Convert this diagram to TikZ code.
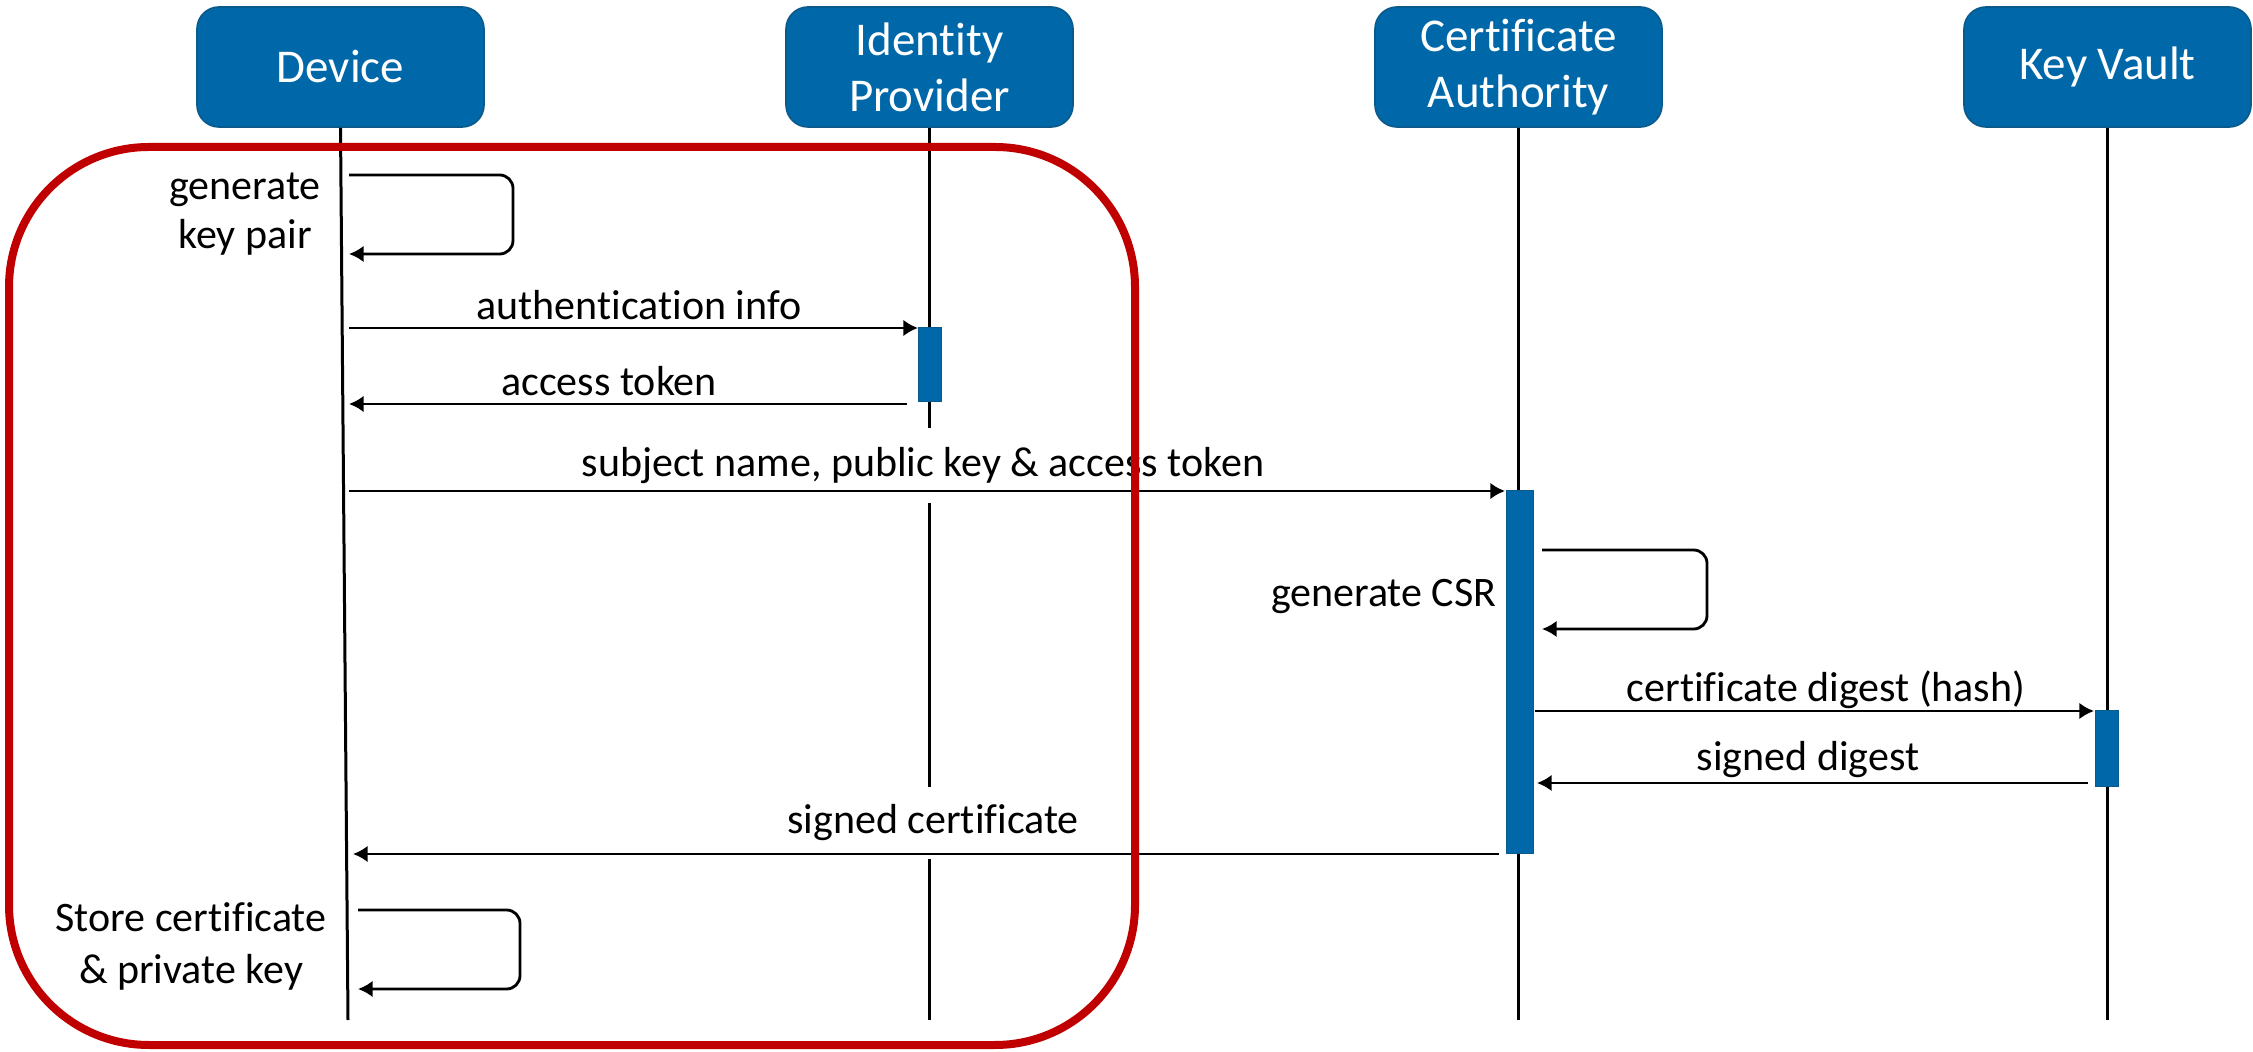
\documentclass[tikz,border=0pt]{standalone}
\usepackage{fontspec}
\setmainfont{Carlito}[Ligatures=NoCommon]
\usetikzlibrary{arrows.meta}
\definecolor{boxblue}{HTML}{0068A8}
\definecolor{boxedge}{HTML}{0A5A8C}
\definecolor{framered}{HTML}{C00000}
\begin{document}
\begin{tikzpicture}[x=0.3pt,y=-0.3pt,
  actor/.style={draw=boxedge, line width=0.5pt, fill=boxblue, rounded corners=6.6pt,
    minimum width=86.1pt, minimum height=36pt, inner sep=0pt, text=white, align=center,
    font=\fontsize{14.1}{16.8}\selectfont},
  lifeline/.style={line width=0.9pt},
  actbar/.style={draw=boxedge, line width=0.3pt, fill=boxblue, inner sep=0pt},
  msg/.style={line width=0.85pt, -{Latex[length=4.4pt,width=5pt]}},
  lbl/.style={font=\fontsize{12.6}{14.6}\selectfont, inner sep=0pt, align=center},
  frame/.style={draw=framered, line width=2.4pt, rounded corners=42pt}]
\useasboundingbox (0,0) rectangle (2253,1052);

% actors
\node[actor] (dev) at (340.5,67) {Device};
\node[actor] (idp) at (929.5,67) {Identity\\Provider};
\node[actor] (ca)  at (1518.5,67) {Certificate\\Authority};
\node[actor] (kv)  at (2107.5,67) {Key Vault};

% lifeline ends
\coordinate (devEnd) at (348,1020);
\coordinate (idpEnd) at (929.5,1020);
\coordinate (caEnd)  at (1518.5,1020);
\coordinate (kvEnd)  at (2107.5,1020);

\draw[lifeline] (dev.south) -- (devEnd);
\draw[lifeline] (idp.south) -- (idpEnd);
\draw[lifeline] (ca.south) -- (caEnd);
\draw[lifeline] (kv.south) -- (kvEnd);

% labels
\node[lbl] (lgen) at (245,214) {generate\\key pair};
\node[lbl] (lauth) at (639,305) {authentication info};
\node[lbl] (lacc) at (609,381) {access token};
\node[lbl, fill=white, minimum height=22.5pt] (lsub) at (923,466) {subject name, public key \& access token};
\node[lbl, anchor=east] (lcsr) at (1497,596) {generate CSR};
\node[lbl] (ldig) at (1826,690) {certificate digest (hash)};
\node[lbl] (lsdig) at (1808,760) {signed digest};
\node[lbl, fill=white, minimum height=21.6pt] (lscert) at (933,823) {signed certificate};
\node[lbl, font=\fontsize{12.6}{15.6}\selectfont] (lstore) at (191,946) {Store certificate\\\& private key};

% activation bars
\node[actbar, minimum width=6.9pt, minimum height=22.2pt] (idpbar) at (929.5,365) {};
\node[actbar, minimum width=8.1pt, minimum height=108.9pt] (cabar) at (1519.5,672.5) {};
\node[actbar, minimum width=6.9pt, minimum height=22.8pt] (kvbar) at (2106.5,749) {};

% message endpoints
\coordinate (g1) at (349,175);
\coordinate (g2) at (349,254);
\coordinate (a1) at (349,328);
\coordinate (a2) at (918,328);
\coordinate (t1) at (907,404);
\coordinate (t2) at (349,404);
\coordinate (s1) at (349,491);
\coordinate (s2) at (1505,491);
\coordinate (c1) at (1542,550);
\coordinate (c2) at (1542,629);
\coordinate (d1) at (1535,711);
\coordinate (d2) at (2094,711);
\coordinate (e1) at (2088,783);
\coordinate (e2) at (1537,783);
\coordinate (f1) at (1499,854);
\coordinate (f2) at (353,854);
\coordinate (h1) at (358,910);
\coordinate (h2) at (358,989);

% messages
\draw[msg, rounded corners=4pt] (g1) -- (513,175) -- (513,254) -- (g2);
\draw[msg] (a1) -- (a2);
\draw[msg] (t1) -- (t2);
\draw[msg] (s1) -- (s2);
\draw[msg, rounded corners=4pt] (c1) -- (1707,550) -- (1707,629) -- (c2);
\draw[msg] (d1) -- (d2);
\draw[msg] (e1) -- (e2);
\draw[msg] (f1) -- (f2);
\draw[msg, rounded corners=4pt] (h1) -- (520,910) -- (520,989) -- (h2);

% highlight frame
\draw[frame] (9,147) rectangle (1135,1045);
\end{tikzpicture}
\end{document}
